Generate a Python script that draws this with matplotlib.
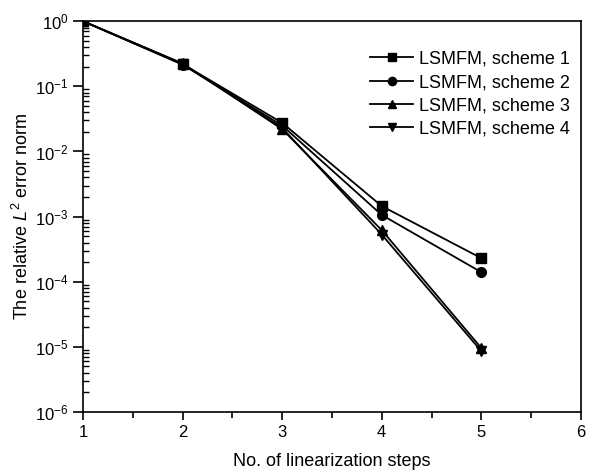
import numpy as np
import matplotlib
matplotlib.use("Agg")
import matplotlib.pyplot as plt
from matplotlib.ticker import LogLocator, NullFormatter, MultipleLocator

plt.rcParams['font.family'] = ['Liberation Sans', 'DejaVu Sans']
plt.rcParams['axes.unicode_minus'] = False
plt.rcParams['mathtext.fontset'] = 'custom'
plt.rcParams['mathtext.rm'] = 'Liberation Sans'
plt.rcParams['mathtext.it'] = 'Liberation Sans:italic'

steps = [1, 2, 3, 4, 5]
scheme1 = [1.0, 0.22, 0.0275, 1.45e-3, 2.3e-4]
scheme2 = [1.0, 0.215, 0.025, 1.06e-3, 1.4e-4]
scheme3 = [1.0, 0.225, 0.022, 6.2e-4, 9.6e-6]
scheme4 = [1.0, 0.22, 0.023, 5.3e-4, 8.6e-6]
labels = ["LSMFM, scheme 1", "LSMFM, scheme 2", "LSMFM, scheme 3", "LSMFM, scheme 4"]
markers = ["s", "o", "^", "v"]

fig = plt.figure(figsize=(6.16, 4.71), dpi=100)
ax = fig.add_axes([0.1347, 0.1253, 0.8083, 0.8297])

for ys, m, lab in zip([scheme1, scheme2, scheme3, scheme4], markers, labels):
    ax.plot(steps, ys, color="black", marker=m, markersize=7, linewidth=1.3, label=lab)

ax.set_yscale("log")
ax.set_xlim(1, 6)
ax.set_ylim(1e-6, 1)
ax.xaxis.set_major_locator(MultipleLocator(1))
ax.xaxis.set_minor_locator(MultipleLocator(0.5))
ax.yaxis.set_major_locator(LogLocator(base=10, numticks=10))
ax.yaxis.set_minor_locator(LogLocator(base=10, subs=np.arange(2, 10), numticks=10))
ax.yaxis.set_minor_formatter(NullFormatter())

ax.tick_params(axis="x", which="major", direction="out", length=6, width=1.2, labelsize=12)
ax.tick_params(axis="x", which="minor", direction="out", length=4, width=1.2)
ax.tick_params(axis="y", which="major", direction="out", length=7, width=1.2, labelsize=12)
ax.tick_params(axis="y", which="minor", direction="in", length=4, width=1.0)
for s in ax.spines.values():
    s.set_linewidth(1.2)

ax.set_xlabel("No. of linearization steps", fontsize=13, labelpad=9)
ax.set_ylabel("The relative $\\mathit{L}^2$ error norm", fontsize=13, labelpad=2)

leg = ax.legend(loc="upper right", frameon=False, fontsize=13, handlelength=2.4,
                handletextpad=0.3, labelspacing=0.35, markerscale=0.85,
                bbox_to_anchor=(1.01, 0.966))

fig.savefig("out.png", dpi=100)
